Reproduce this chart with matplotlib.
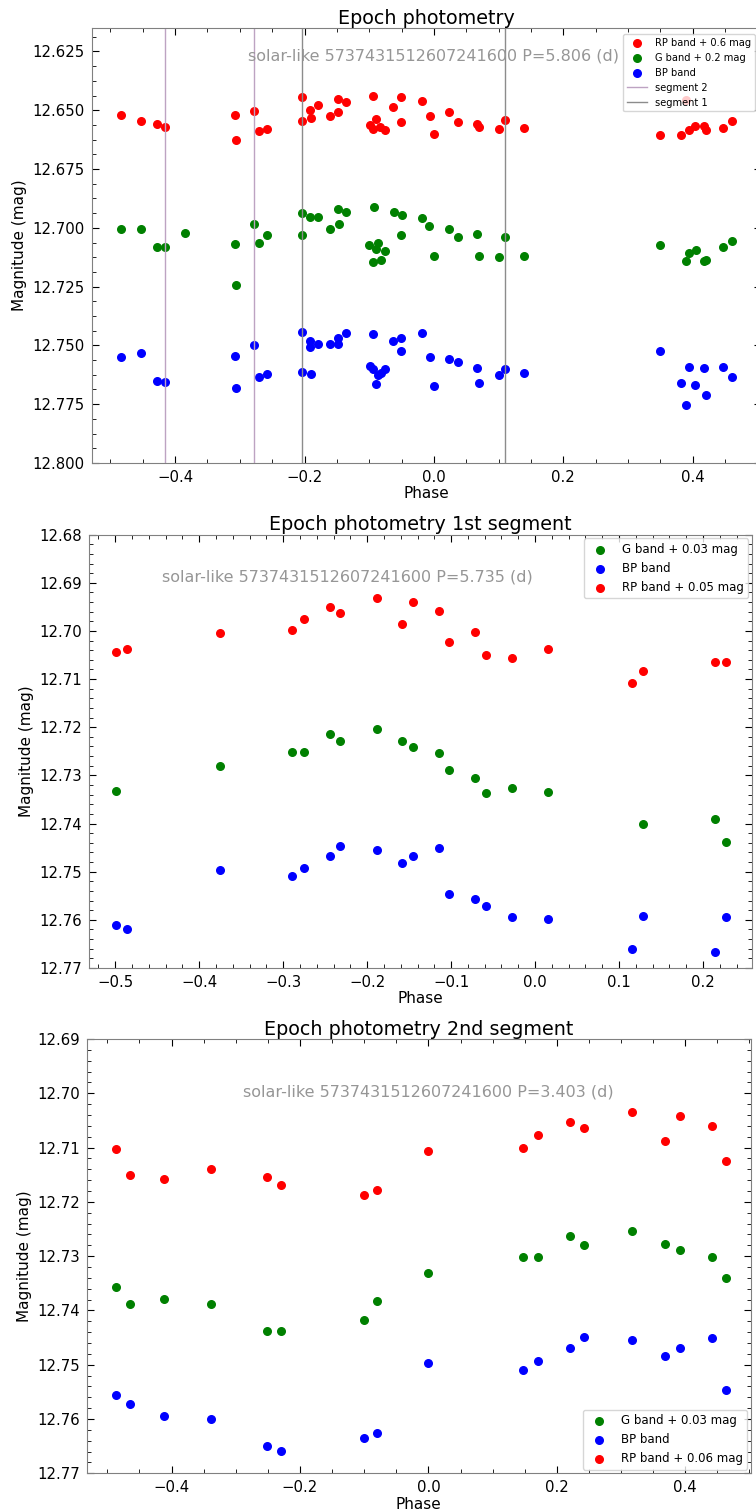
import numpy as np
import matplotlib
matplotlib.use('Agg')
import matplotlib.pyplot as plt
from matplotlib.ticker import MultipleLocator

# ---- Dane: pelna faza (P=5.806 d) ----
star_label = "solar-like 5737431512607241600"

rp_phase = [-0.483, -0.453, -0.428, -0.416, -0.307, -0.306, -0.278, -0.270, -0.258,
            -0.204, -0.204, -0.192, -0.190, -0.179, -0.160, -0.149, -0.148, -0.136,
            -0.099, -0.094, -0.090, -0.094, -0.084, -0.076, -0.063, -0.051, -0.051,
            -0.019, -0.006, 0.000, 0.023, 0.037, 0.067, 0.070, 0.101, 0.110, 0.139,
            0.350, 0.382, 0.389, 0.394, 0.404, 0.417, 0.420, 0.447, 0.461]
rp_mag = [12.6518, 12.6547, 12.6557, 12.6571, 12.6521, 12.6628, 12.6504, 12.6588, 12.6579,
          12.6443, 12.6547, 12.6500, 12.6531, 12.6477, 12.6523, 12.6453, 12.6508, 12.6463,
          12.6561, 12.6438, 12.6538, 12.6578, 12.6573, 12.6582, 12.6487, 12.6445, 12.6552,
          12.6460, 12.6525, 12.6603, 12.6506, 12.6549, 12.6559, 12.6572, 12.6579, 12.6542, 12.6576,
          12.6606, 12.6606, 12.6458, 12.6582, 12.6565, 12.6565, 12.6586, 12.6575, 12.6544]

g_phase = [-0.483, -0.453, -0.428, -0.416, -0.384, -0.307, -0.306, -0.278, -0.270, -0.258,
           -0.204, -0.204, -0.192, -0.179, -0.160, -0.149, -0.146, -0.136,
           -0.100, -0.0947, -0.0932, -0.0896, -0.087, -0.082, -0.0757,
           -0.0623, -0.050, -0.0515, -0.019, -0.0073, 0.000, 0.023, 0.037, 0.067, 0.070,
           0.101, 0.110, 0.139, 0.349, 0.389, 0.394, 0.405, 0.418, 0.420, 0.447, 0.461]
g_mag = [12.7004, 12.7003, 12.7083, 12.7083, 12.7021, 12.7069, 12.7245, 12.6982, 12.7066, 12.7032,
         12.6939, 12.7032, 12.6956, 12.6952, 12.7004, 12.6922, 12.6984, 12.6932,
         12.7073, 12.7146, 12.6910, 12.7089, 12.7063, 12.7137, 12.7099,
         12.6931, 12.6945, 12.7029, 12.6958, 12.6992, 12.7118, 12.7006, 12.7037, 12.7025, 12.7119,
         12.7126, 12.7037, 12.7119, 12.7073, 12.7140, 12.7105, 12.7095, 12.7143, 12.7135, 12.7082, 12.7055]

bp_phase = [-0.483, -0.453, -0.428, -0.416, -0.307, -0.306, -0.278, -0.270, -0.258,
            -0.204, -0.204, -0.192, -0.192, -0.190, -0.179, -0.160, -0.149, -0.148, -0.136,
            -0.099, -0.094, -0.094, -0.090, -0.087, -0.082, -0.076, -0.063, -0.051, -0.051,
            -0.019, -0.006, 0.000, 0.023, 0.037, 0.067, 0.070, 0.101, 0.110, 0.139,
            0.350, 0.382, 0.390, 0.394, 0.404, 0.417, 0.420, 0.447, 0.461]
bp_mag = [12.7548, 12.7534, 12.7650, 12.7657, 12.7544, 12.7681, 12.7497, 12.7633, 12.7623,
          12.7443, 12.7613, 12.7480, 12.7508, 12.7620, 12.7494, 12.7494, 12.7469, 12.7494, 12.7448,
          12.7587, 12.7452, 12.7599, 12.7664, 12.7627, 12.7617, 12.7600, 12.7482, 12.7469, 12.7524,
          12.7449, 12.7548, 12.7674, 12.7558, 12.7572, 12.7594, 12.7659, 12.7626, 12.7599, 12.7619,
          12.7524, 12.7659, 12.7755, 12.7592, 12.7667, 12.7594, 12.7712, 12.7592, 12.7633]

seg2_bounds = [-0.416, -0.278]
seg1_bounds = [-0.204, 0.110]

# ---- Dane: 1. segment (P=5.735 d) ----
s1_phase = [-0.4986, -0.486, -0.375, -0.289, -0.275, -0.244, -0.232, -0.188, -0.158, -0.145,
            -0.114, -0.102, -0.071, -0.058, -0.027, 0.015, 0.116, 0.129, 0.214, 0.227]
s1_rp = [12.7044, 12.7038, 12.7004, 12.6999, 12.6976, 12.6951, 12.6962, 12.6931, 12.6985, 12.6940,
         12.6958, 12.7022, 12.7002, 12.7049, 12.7057, 12.7038, 12.7108, 12.7084, 12.7065, 12.7065]
s1_g_phase = [-0.4986, -0.375, -0.289, -0.275, -0.244, -0.232, -0.188, -0.158, -0.145,
              -0.114, -0.102, -0.071, -0.058, -0.027, 0.015, 0.129, 0.214, 0.227]
s1_g = [12.7332, 12.7281, 12.7252, 12.7251, 12.7214, 12.7229, 12.7204, 12.7228, 12.7241,
        12.7254, 12.7288, 12.7306, 12.7337, 12.7327, 12.7335, 12.7401, 12.7390, 12.7439]
s1_bp = [12.7611, 12.7619, 12.7497, 12.7508, 12.7493, 12.7468, 12.7447, 12.7454, 12.7481, 12.7468,
         12.7450, 12.7546, 12.7557, 12.7571, 12.7594, 12.7598, 12.7661, 12.7591, 12.7666, 12.7594]

# ---- Dane: 2. segment (P=3.403 d) ----
s2_phase = [-0.486, -0.464, -0.412, -0.339, -0.252, -0.230, -0.101, -0.080, 0.000,
            0.147, 0.170, 0.221, 0.243, 0.317, 0.368, 0.391, 0.442, 0.464]
s2_rp = [12.7103, 12.7150, 12.7157, 12.7140, 12.7154, 12.7168, 12.7188, 12.7178, 12.7106,
         12.7100, 12.7077, 12.7053, 12.7063, 12.7035, 12.7087, 12.7041, 12.7060, 12.7124]
s2_g = [12.7357, 12.7389, 12.7379, 12.7388, 12.7437, 12.7437, 12.7418, 12.7383, 12.7331,
        12.7301, 12.7301, 12.7263, 12.7279, 12.7254, 12.7277, 12.7289, 12.7302, 12.7340]
s2_bp = [12.7556, 12.7572, 12.7595, 12.7600, 12.7650, 12.7659, 12.7635, 12.7625, 12.7496,
         12.7509, 12.7493, 12.7470, 12.7448, 12.7454, 12.7483, 12.7469, 12.7451, 12.7547]


def style_axes(ax, xmajor, xminor, ymajor, yminor):
    ax.xaxis.set_major_locator(MultipleLocator(xmajor))
    ax.xaxis.set_minor_locator(MultipleLocator(xminor))
    ax.yaxis.set_major_locator(MultipleLocator(ymajor))
    ax.yaxis.set_minor_locator(MultipleLocator(yminor))
    ax.tick_params(which='both', direction='in', top=True, right=True, labelsize=10.7)
    ax.tick_params(which='major', length=5, pad=5)
    ax.tick_params(which='minor', length=3)
    for sp in ax.spines.values():
        sp.set_color('#808080')
    ax.set_xlabel('Phase', fontsize=11, labelpad=1)
    ax.set_ylabel('Magnitude (mag)', fontsize=11)


fig = plt.figure(figsize=(7.56, 15.12), dpi=100)
ms = 30

# Wykres 1: pelna faza
ax1 = fig.add_axes([0.1212, 0.6938, 0.885, 0.2877])
ax1.scatter(rp_phase, rp_mag, s=ms, color='red', label='RP band + 0.6 mag')
ax1.scatter(g_phase, g_mag, s=ms, color='green', label='G band + 0.2 mag')
ax1.scatter(bp_phase, bp_mag, s=ms, color='blue', label='BP band')
for i, xv in enumerate(seg2_bounds):
    ax1.axvline(xv, color='#bda3c2', lw=1, label='segment 2' if i == 0 else None)
for i, xv in enumerate(seg1_bounds):
    ax1.axvline(xv, color='#8c8c8c', lw=1, label='segment 1' if i == 0 else None)
ax1.set_xlim(-0.529, 0.505)
ax1.set_ylim(12.800, 12.615)
style_axes(ax1, 0.2, 0.05, 0.025, 0.00625)
ax1.set_title('Epoch photometry', fontsize=13.8, pad=3)
ax1.text(0.0, 12.627, star_label + ' P=5.806 (d)', ha='center', va='center',
         color='#969696', fontsize=11.5)
ax1.legend(loc='upper right', fontsize=7.1, borderaxespad=0.6)

# Wykres 2: 1. segment
ax2 = fig.add_axes([0.118, 0.3598, 0.8763, 0.2866])
ax2.scatter(s1_g_phase, s1_g, s=ms, color='green', label='G band + 0.03 mag')
ax2.scatter(s1_phase, s1_bp, s=ms, color='blue', label='BP band')
ax2.scatter(s1_phase, s1_rp, s=ms, color='red', label='RP band + 0.05 mag')
ax2.set_xlim(-0.531, 0.258)
ax2.set_ylim(12.77, 12.68)
style_axes(ax2, 0.1, 0.02, 0.01, 0.002)
ax2.set_title('Epoch photometry 1st segment', fontsize=13.8, pad=3)
ax2.text(-0.223, 12.6887, star_label + ' P=5.735 (d)', ha='center', va='center',
         color='#969696', fontsize=11.5)
ax2.legend(loc='upper right', fontsize=8.5, borderaxespad=0.3)

# Wykres 3: 2. segment
ax3 = fig.add_axes([0.1148, 0.0256, 0.8783, 0.2872])
ax3.scatter(s2_phase, s2_g, s=ms, color='green', label='G band + 0.03 mag')
ax3.scatter(s2_phase, s2_bp, s=ms, color='blue', label='BP band')
ax3.scatter(s2_phase, s2_rp, s=ms, color='red', label='RP band + 0.06 mag')
ax3.set_xlim(-0.532, 0.502)
ax3.set_ylim(12.77, 12.69)
style_axes(ax3, 0.2, 0.05, 0.01, 0.002)
ax3.set_title('Epoch photometry 2nd segment', fontsize=13.8, pad=3)
ax3.text(0.0, 12.6997, star_label + ' P=3.403 (d)', ha='center', va='center',
         color='#969696', fontsize=11.5)
ax3.legend(loc='lower right', fontsize=8.5, borderaxespad=0.3)

fig.savefig('out.png', dpi=100)
